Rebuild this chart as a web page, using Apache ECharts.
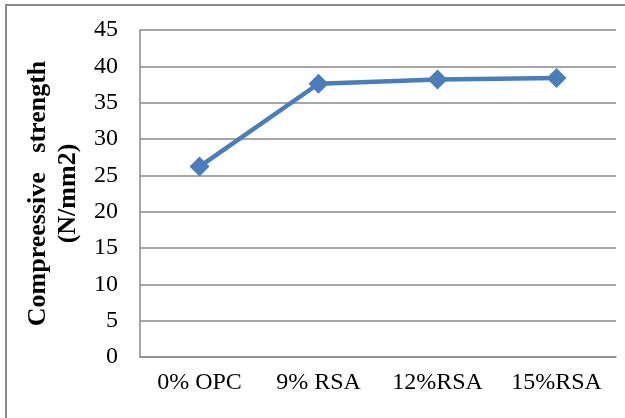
<!DOCTYPE html>
<html>
<head>
<meta charset="utf-8">
<script src="https://cdn.jsdelivr.net/npm/echarts@6/dist/echarts.min.js"></script>
<style>
html,body{margin:0;padding:0;background:#fff;}
#chart{width:625px;height:418px;}
</style>
</head>
<body>
<div id="chart"></div>
<script>
var categories = ['0% OPC', '9% RSA', '12%RSA', '15%RSA'];
var strengthValues = [26.2, 37.6, 38.2, 38.4];
var yTicks = [0, 5, 10, 15, 20, 25, 30, 35, 40, 45];
var yAxisTitle = 'Compreessive   strength\n(N/mm2)';

var chart = echarts.init(document.getElementById('chart'), null, {renderer: 'canvas'});
var font = '"Liberation Serif", "Times New Roman", serif';
chart.setOption({
  animation: false,
  backgroundColor: '#ffffff',
  graphic: [{
    type: 'rect',
    shape: {x: 6, y: 5, width: 700, height: 500},
    style: {fill: 'none', stroke: '#8a8a8a', lineWidth: 2},
    silent: true, z: -10
  }],
  grid: {left: 140, right: 9, top: 30, bottom: 61},
  xAxis: {
    type: 'category',
    data: categories,
    boundaryGap: true,
    axisLine: {show: true, lineStyle: {color: '#8a8a8a', width: 1.5}},
    axisTick: {show: false},
    axisLabel: {color: '#000', fontFamily: font, fontSize: 24, margin: 14}
  },
  yAxis: {
    type: 'value',
    min: yTicks[0],
    max: yTicks[yTicks.length - 1],
    interval: 5,
    name: yAxisTitle,
    nameLocation: 'middle',
    nameRotate: 90,
    nameGap: 53,
    nameTextStyle: {color: '#000', fontFamily: font, fontSize: 26, fontWeight: 'bold', lineHeight: 30},
    axisLine: {show: true, lineStyle: {color: '#8a8a8a', width: 1.5}},
    axisTick: {show: false},
    splitLine: {show: true, lineStyle: {color: '#8a8a8a', width: 1.5}},
    axisLabel: {color: '#000', fontFamily: font, fontSize: 24, margin: 22}
  },
  series: [{
    type: 'line',
    data: strengthValues,
    symbol: 'diamond',
    symbolSize: 20,
    lineStyle: {color: '#4a7ebb', width: 4.5},
    itemStyle: {color: '#4a7ebb'}
  }]
});
</script>
</body>
</html>
